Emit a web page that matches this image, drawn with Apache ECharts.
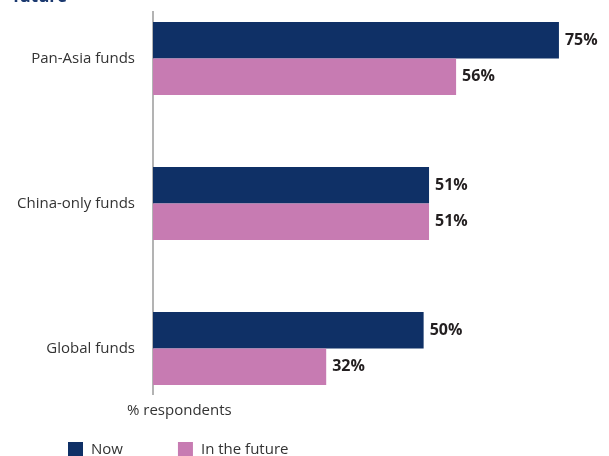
<!DOCTYPE html>
<html>
<head>
<meta charset="utf-8">
<script src="https://cdn.jsdelivr.net/npm/echarts@6/dist/echarts.min.js"></script>
<style>
  html, body { margin: 0; padding: 0; background: #fff; }
  #chart { width: 609px; height: 456px; }
</style>
</head>
<body>
<div id="chart"></div>
<script>
// Fund types, listed top to bottom
const categories = ['Pan-Asia funds', 'China-only funds', 'Global funds'];
// Share of respondents (%)
const nowValues = [75, 51, 50];
const futureValues = [56, 51, 32];
const seriesNames = ['Now', 'In the future'];

const NAVY = '#0f3066';
const PINK = '#c77bb2';
const FONT = '"Open Sans", "Noto Sans", sans-serif';

const chart = echarts.init(document.getElementById('chart'), null, { renderer: 'canvas' });

const labelStyle = {
  show: true,
  position: 'right',
  distance: 6,
  formatter: '{c}%',
  fontFamily: FONT,
  fontSize: 16,
  fontWeight: 'bold',
  color: '#231f20'
};

chart.setOption({
  animation: false,
  textStyle: { fontFamily: FONT },
  title: {
    text: 'future',
    left: 8,
    top: -16,
    textStyle: { fontFamily: FONT, fontSize: 17, fontWeight: 'bold', color: '#1c3a70' }
  },
  grid: {
    left: 153, top: -14, width: 433, height: 435,
    containLabel: false,
    outerBoundsMode: 'none'
  },
  xAxis: {
    type: 'value',
    min: 0,
    max: 80,
    show: false
  },
  yAxis: {
    type: 'category',
    data: categories,
    inverse: true,
    axisLine: { show: false },
    axisTick: { show: false },
    splitLine: { show: false },
    axisLabel: {
      fontFamily: FONT,
      fontSize: 15,
      color: '#333',
      margin: 18,
      padding: [0, 0, 6, 0]
    }
  },
  legend: {
    left: 63,
    top: 437,
    itemWidth: 15,
    itemHeight: 15,
    itemGap: 55,
    icon: 'rect',
    textStyle: { fontFamily: FONT, fontSize: 15, color: '#333', padding: [0, 0, 0, 3] },
    data: seriesNames
  },
  graphic: [
    {
      type: 'line',
      shape: { x1: 153, y1: 11, x2: 153, y2: 395 },
      style: { stroke: '#9a9a9a', lineWidth: 1.5 }
    },
    {
      type: 'text',
      left: 127,
      top: 403,
      style: { text: '% respondents', font: '15px ' + FONT, fill: '#333' }
    }
  ],
  series: [
    {
      name: seriesNames[0],
      type: 'bar',
      data: nowValues,
      barWidth: 36.5,
      barGap: '0%',
      itemStyle: { color: NAVY },
      label: labelStyle
    },
    {
      name: seriesNames[1],
      type: 'bar',
      data: futureValues,
      barWidth: 36.5,
      barGap: '0%',
      itemStyle: { color: PINK },
      label: labelStyle
    }
  ]
});
</script>
</body>
</html>
